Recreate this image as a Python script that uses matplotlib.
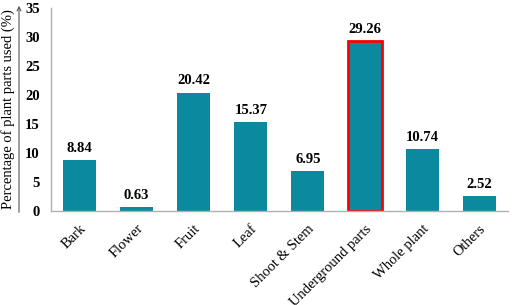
import numpy as np
import matplotlib
matplotlib.use("Agg")
import matplotlib.pyplot as plt

plt.rcParams["font.family"] = ["Liberation Serif", "DejaVu Serif"]

categories = ["Bark", "Flower", "Fruit", "Leaf", "Shoot & Stem",
              "Underground parts", "Whole plant", "Others"]
values = [8.84, 0.63, 20.42, 15.37, 6.95, 29.26, 10.74, 2.52]
highlight = "Underground parts"

BAR_COLOR = "#0b8a9f"

fig = plt.figure(figsize=(5.12, 3.05), dpi=100)
ax = fig.add_axes([0.0996, 0.308, 0.892, 0.666])

x = np.arange(len(categories))
edges = ["red" if c == highlight else BAR_COLOR for c in categories]
lws = [2.0 if c == highlight else 0 for c in categories]
ax.bar(x, values, width=0.58, color=BAR_COLOR, edgecolor=edges, linewidth=lws)

for xi, v in zip(x, values):
    ax.text(xi, v + 0.9, f"{v:.2f}", ha="center", va="bottom",
            fontsize=10.5, fontweight="bold")

ax.set_xlim(-0.5, len(categories) - 0.5)
ax.set_ylim(0, 35)
ax.set_yticks(range(0, 36, 5))
ax.tick_params(axis="y", length=0, labelsize=10.5, pad=8)
ax.tick_params(axis="x", length=0, labelsize=10.5, pad=8)
for lbl in ax.get_yticklabels():
    lbl.set_fontweight("bold")
ax.set_xticks(x)
ax.set_xticklabels(categories, rotation=45, ha="right",
                   rotation_mode="anchor")

for s in ["top", "right"]:
    ax.spines[s].set_visible(False)
for s in ["left", "bottom"]:
    ax.spines[s].set_color("#b0b0b0")
    ax.spines[s].set_linewidth(1.0)

# y label with arrow
fig.add_artist(matplotlib.patches.FancyArrowPatch(
    (19 / 512, 1 - 215 / 305), (19 / 512, 1 - 3 / 305),
    transform=fig.transFigure, arrowstyle="->", mutation_scale=7,
    color="#555555", lw=0.8))
fig.text(8 / 512, 1 - 109 / 305, "Percentage of plant parts used (%)",
         rotation=90, ha="center", va="center", fontsize=10.5)

fig.savefig("out.png", dpi=100)
